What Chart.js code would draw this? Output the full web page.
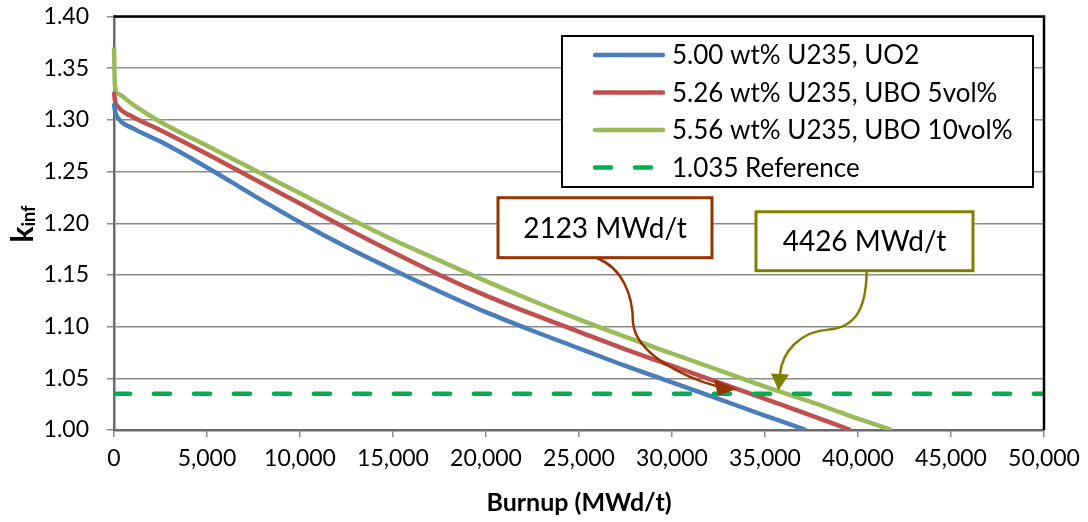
<!DOCTYPE html>
<html>
<head>
<meta charset="utf-8">
<script src="https://cdn.jsdelivr.net/npm/chart.js@4.4.1/dist/chart.umd.min.js"></script>
<style>
  html, body { margin:0; padding:0; background:#fff; }
  #wrap { width:1088px; height:522px; position:relative; }
</style>
</head>
<body>
<div id="wrap"><canvas id="kinf"></canvas></div>
<script>
// ── data ───────────────────────────────────────────────────────────────────
const burnupUO2 = [0, 50, 250, 1000, 2500, 5000, 7500, 10000, 12500, 15000, 17500, 20000, 22500, 25000, 27500, 30000, 32500, 35000, 37200];
const kinfUO2   = [1.316, 1.309, 1.301, 1.292, 1.279, 1.254, 1.227, 1.201, 1.177, 1.155, 1.134, 1.114, 1.096, 1.079, 1.062, 1.046, 1.030, 1.014, 1.000];

const burnupUBO5 = [0, 50, 250, 1000, 2500, 5000, 7500, 10000, 12500, 15000, 17500, 20000, 22500, 25000, 27500, 30000, 32500, 35000, 37500, 39600];
const kinfUBO5   = [1.327, 1.319, 1.312, 1.303, 1.290, 1.267, 1.243, 1.219, 1.195, 1.172, 1.150, 1.130, 1.112, 1.095, 1.078, 1.062, 1.046, 1.030, 1.014, 1.000];

const burnupUBO10 = [0, 50, 250, 1000, 2500, 5000, 7500, 10000, 12500, 15000, 17500, 20000, 22500, 25000, 27500, 30000, 32500, 35000, 37500, 40000, 41800];
const kinfUBO10   = [1.370, 1.333, 1.325, 1.315, 1.298, 1.275, 1.252, 1.229, 1.206, 1.184, 1.164, 1.144, 1.125, 1.107, 1.090, 1.074, 1.058, 1.042, 1.027, 1.011, 1.000];

const refBurnup = [0, 50000];
const refKinf   = 1.035;

const seriesLabels = ['5.00 wt% U235, UO2', '5.26 wt% U235, UBO 5vol%', '5.56 wt% U235, UBO 10vol%', '1.035 Reference'];
const xTicks = [0, 5000, 10000, 15000, 20000, 25000, 30000, 35000, 40000, 45000, 50000];
const yTicks = [1.00, 1.05, 1.10, 1.15, 1.20, 1.25, 1.30, 1.35, 1.40];

// callouts, anchored in data units (burnup, kinf)
const callouts = [
  { text:'2123 MWd/t', color:'#993300',
    box:[20645, 1.2247, 32150, 1.1667],
    path:[[25951,1.1664],[27312,1.1570],[27903,1.1309],[27903,1.1039],[28064,1.0729],[30699,1.0507],[32473,1.0420]],
    head:[[33494,1.0396],[32258,1.0488],[32473,1.0333]] },
  { text:'4426 MWd/t', color:'#808000',
    box:[34516, 1.2111, 46182, 1.1541],
    path:[[40468,1.1531],[40430,1.1164],[39838,1.0990],[38387,1.0971],[36881,1.0952],[35914,1.0758],[35806,1.0536]],
    head:[[35726,1.0382],[35322,1.0546],[36290,1.0536]] },
];

const FONT = 'Lato, "Open Sans", sans-serif';
const COL = { blue:'#4a7ebb', red:'#c0504d', green:'#9bbb59', ref:'#00b050', grid:'#8a8a8a', axis:'#6b6b6b' };

const pts = (xs, ys) => xs.map((v, i) => ({ x:v, y:ys[i] }));
const line = (label, data, color) => ({
  label, data, borderColor:color, backgroundColor:color, borderWidth:4.5,
  pointRadius:0, cubicInterpolationMode:'monotone', clip:{left:4, top:4, right:0, bottom:0},
});

// ── overlay: frame, callouts, legend, y title ──────────────────────────────
const overlay = {
  id:'overlay',
  afterDatasetsDraw(chart) {
    const { ctx, chartArea:a, scales:{ x, y } } = chart;
    const P = ([bx, k]) => [x.getPixelForValue(bx), y.getPixelForValue(k)];
    ctx.save();

    // plot-area frame (top / right)
    ctx.strokeStyle = '#000'; ctx.lineWidth = 2.5;
    ctx.beginPath(); ctx.moveTo(a.left, a.top); ctx.lineTo(a.right, a.top); ctx.lineTo(a.right, a.bottom); ctx.stroke();

    // callouts
    callouts.forEach(c => {
      const [x1, y1] = P([c.box[0], c.box[1]]);
      const [x2, y2] = P([c.box[2], c.box[3]]);
      ctx.fillStyle = '#fff'; ctx.fillRect(x1, y1, x2 - x1, y2 - y1);
      ctx.strokeStyle = c.color; ctx.lineWidth = 3; ctx.strokeRect(x1, y1, x2 - x1, y2 - y1);
      ctx.fillStyle = '#000'; ctx.font = `28px ${FONT}`;
      ctx.textAlign = 'center'; ctx.textBaseline = 'alphabetic';
      ctx.fillText(c.text, (x1 + x2) / 2, (y1 + y2) / 2 + 10);

      const p = c.path.map(P);
      ctx.strokeStyle = c.color; ctx.lineWidth = 2.5; ctx.lineCap = 'round';
      ctx.beginPath(); ctx.moveTo(...p[0]);
      for (let i = 1; i + 2 < p.length; i += 3) ctx.bezierCurveTo(...p[i], ...p[i + 1], ...p[i + 2]);
      ctx.stroke();
      const h = c.head.map(P);
      ctx.fillStyle = c.color;
      ctx.beginPath(); ctx.moveTo(...h[0]); ctx.lineTo(...h[1]); ctx.lineTo(...h[2]); ctx.closePath(); ctx.fill();
    });

    // legend
    const L = { left:562, top:36, right:1033, bottom:187, row0:55, step:37.5 };
    ctx.fillStyle = '#fff'; ctx.fillRect(L.left, L.top, L.right - L.left, L.bottom - L.top);
    ctx.strokeStyle = '#000'; ctx.lineWidth = 2; ctx.strokeRect(L.left, L.top, L.right - L.left, L.bottom - L.top);
    chart.data.datasets.forEach((ds, i) => {
      const yy = L.row0 + i * L.step;
      ctx.strokeStyle = ds.borderColor; ctx.lineWidth = 4.5; ctx.lineCap = 'round';
      ctx.setLineDash(ds.borderDash || []);
      ctx.beginPath(); ctx.moveTo(595, yy); ctx.lineTo(663, yy); ctx.stroke();
      ctx.setLineDash([]);
      ctx.fillStyle = '#000'; ctx.font = `26px ${FONT}`;
      ctx.textAlign = 'left'; ctx.textBaseline = 'alphabetic';
      ctx.fillText(ds.label, 672, yy + 9);
    });

    // y axis title k_inf
    ctx.translate(33, 224); ctx.rotate(-Math.PI / 2);
    ctx.fillStyle = '#000'; ctx.textAlign = 'left'; ctx.textBaseline = 'alphabetic';
    ctx.font = `bold 30px ${FONT}`;
    const kw = ctx.measureText('k').width;
    ctx.font = `bold 18px ${FONT}`;
    const sw = ctx.measureText('inf').width;
    const x0 = -(kw + sw) / 2;
    ctx.font = `bold 30px ${FONT}`; ctx.fillText('k', x0, 0);
    ctx.font = `bold 18px ${FONT}`; ctx.fillText('inf', x0 + kw, 2);
    ctx.restore();
  }
};

new Chart(document.getElementById('kinf'), {
  type:'line',
  data:{
    datasets:[
      line(seriesLabels[0], pts(burnupUO2, kinfUO2), COL.blue),
      line(seriesLabels[1], pts(burnupUBO5, kinfUBO5), COL.red),
      line(seriesLabels[2], pts(burnupUBO10, kinfUBO10), COL.green),
      { label:seriesLabels[3], data:refBurnup.map(b => ({ x:b, y:refKinf })),
        borderColor:COL.ref, backgroundColor:COL.ref, borderWidth:4.5, borderDash:[16, 24],
        borderCapStyle:'round', pointRadius:0, order:-1, clip:0 },
    ]
  },
  options:{
    responsive:true, maintainAspectRatio:false, animation:false,
    layout:{ padding:{ left:0, top:0, right:44, bottom:0 } },
    plugins:{ legend:{ display:false }, tooltip:{ enabled:false } },
    scales:{
      x:{
        type:'linear', min:0, max:50000,
        afterBuildTicks:s => { s.ticks = xTicks.map(v => ({ value:v })); },
        afterFit:s => { s.height = 92; },
        ticks:{ color:'#000', font:{ family:FONT, size:23 }, padding:8, maxRotation:0,
                callback:v => v.toLocaleString('en-US') },
        grid:{ drawOnChartArea:false, drawTicks:true, tickLength:7, color:COL.grid, lineWidth:1.5 },
        border:{ color:COL.axis, width:2.5 },
        title:{ display:true, text:'Burnup (MWd/t)', color:'#000', font:{ family:FONT, size:25, weight:'bold' }, padding:{ top:0, bottom:4 } },
      },
      y:{
        type:'linear', min:1.0, max:1.4,
        afterBuildTicks:s => { s.ticks = yTicks.map(v => ({ value:v })); },
        afterFit:s => { s.width = 114; s.paddingTop = 16.5; s.paddingBottom = 0; },
        ticks:{ color:'#000', font:{ family:FONT, size:23 }, padding:18, callback:v => v.toFixed(2) },
        grid:{ color:COL.grid, lineWidth:1.5, tickLength:7, drawTicks:true },
        border:{ color:COL.axis, width:2.5 },
      }
    }
  },
  plugins:[overlay]
});
</script>
</body>
</html>
